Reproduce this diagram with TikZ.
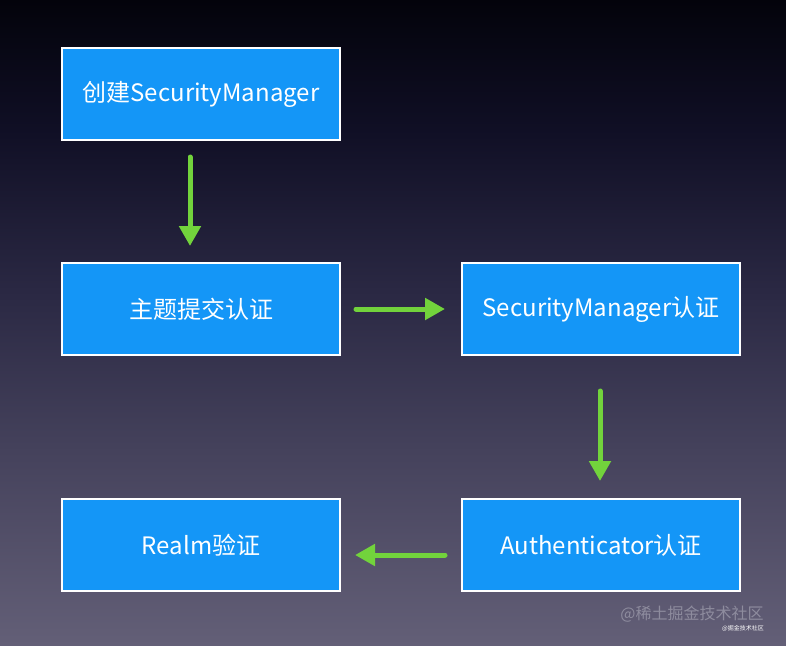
\documentclass[tikz,border=0pt]{standalone}
\usepackage{fontspec}
\setmainfont{Noto Sans CJK SC}
\usetikzlibrary{arrows.meta}
\definecolor{boxblue}{HTML}{1496F7}
\definecolor{arrgreen}{HTML}{72D33C}
\definecolor{bgtop}{HTML}{03030B}
\definecolor{bgup}{HTML}{100F25}
\definecolor{bgmid}{HTML}{2A2843}
\definecolor{bglow}{HTML}{45425C}
\definecolor{bgbot}{HTML}{635F77}
\definecolor{wmgrey}{HTML}{8E8C9E}
\pgfdeclareverticalshading{bgshade}{100bp}{color(0bp)=(bgbot); color(25bp)=(bgbot); color(40bp)=(bglow); color(52.5bp)=(bgmid); color(65bp)=(bgup); color(75bp)=(bgtop); color(100bp)=(bgtop)}
\tikzset{
  stepbox/.style={draw=white, line width=2pt, fill=boxblue, minimum width=278pt, minimum height=92pt, inner sep=0pt, text=white, font=\fontsize{24}{28}\selectfont},
  flow/.style={draw=arrgreen, line width=5pt, line cap=round, -{Triangle[length=20pt,width=21pt]}}
}
\begin{document}
\begin{tikzpicture}[x=1pt,y=-1pt]
\useasboundingbox (0,0) rectangle (786,645);
\shade[shading=bgshade] (0,0) rectangle (786,645);
\node[stepbox] (create) at (201,94) {创建SecurityManager};
\node[stepbox] (subject) at (201,309) {主题提交认证};
\node[stepbox] (secmgr) at (601,309) {SecurityManager认证};
\node[stepbox] (realm) at (201,545) {Realm验证};
\node[stepbox] (auth) at (601,545) {Authenticator认证};
\coordinate (a1s) at (190,157);
\coordinate (a1e) at (190,246);
\coordinate (a2s) at (356,309);
\coordinate (a2e) at (445,309);
\coordinate (a3s) at (600,391);
\coordinate (a3e) at (600,481);
\coordinate (a4s) at (445,555);
\coordinate (a4e) at (355,555);
\draw[flow] (a1s) -- (a1e);
\draw[flow] (a2s) -- (a2e);
\draw[flow] (a3s) -- (a3e);
\draw[flow] (a4s) -- (a4e);
\node[text=wmgrey, font=\fontsize{16}{18}\selectfont, inner sep=0pt] (wm) at (692,614) {@稀土掘金技术社区};
\node[text=white, font=\fontsize{6}{7}\selectfont, inner sep=0pt] (wm2) at (743,628) {@掘金技术社区};
\end{tikzpicture}
\end{document}
